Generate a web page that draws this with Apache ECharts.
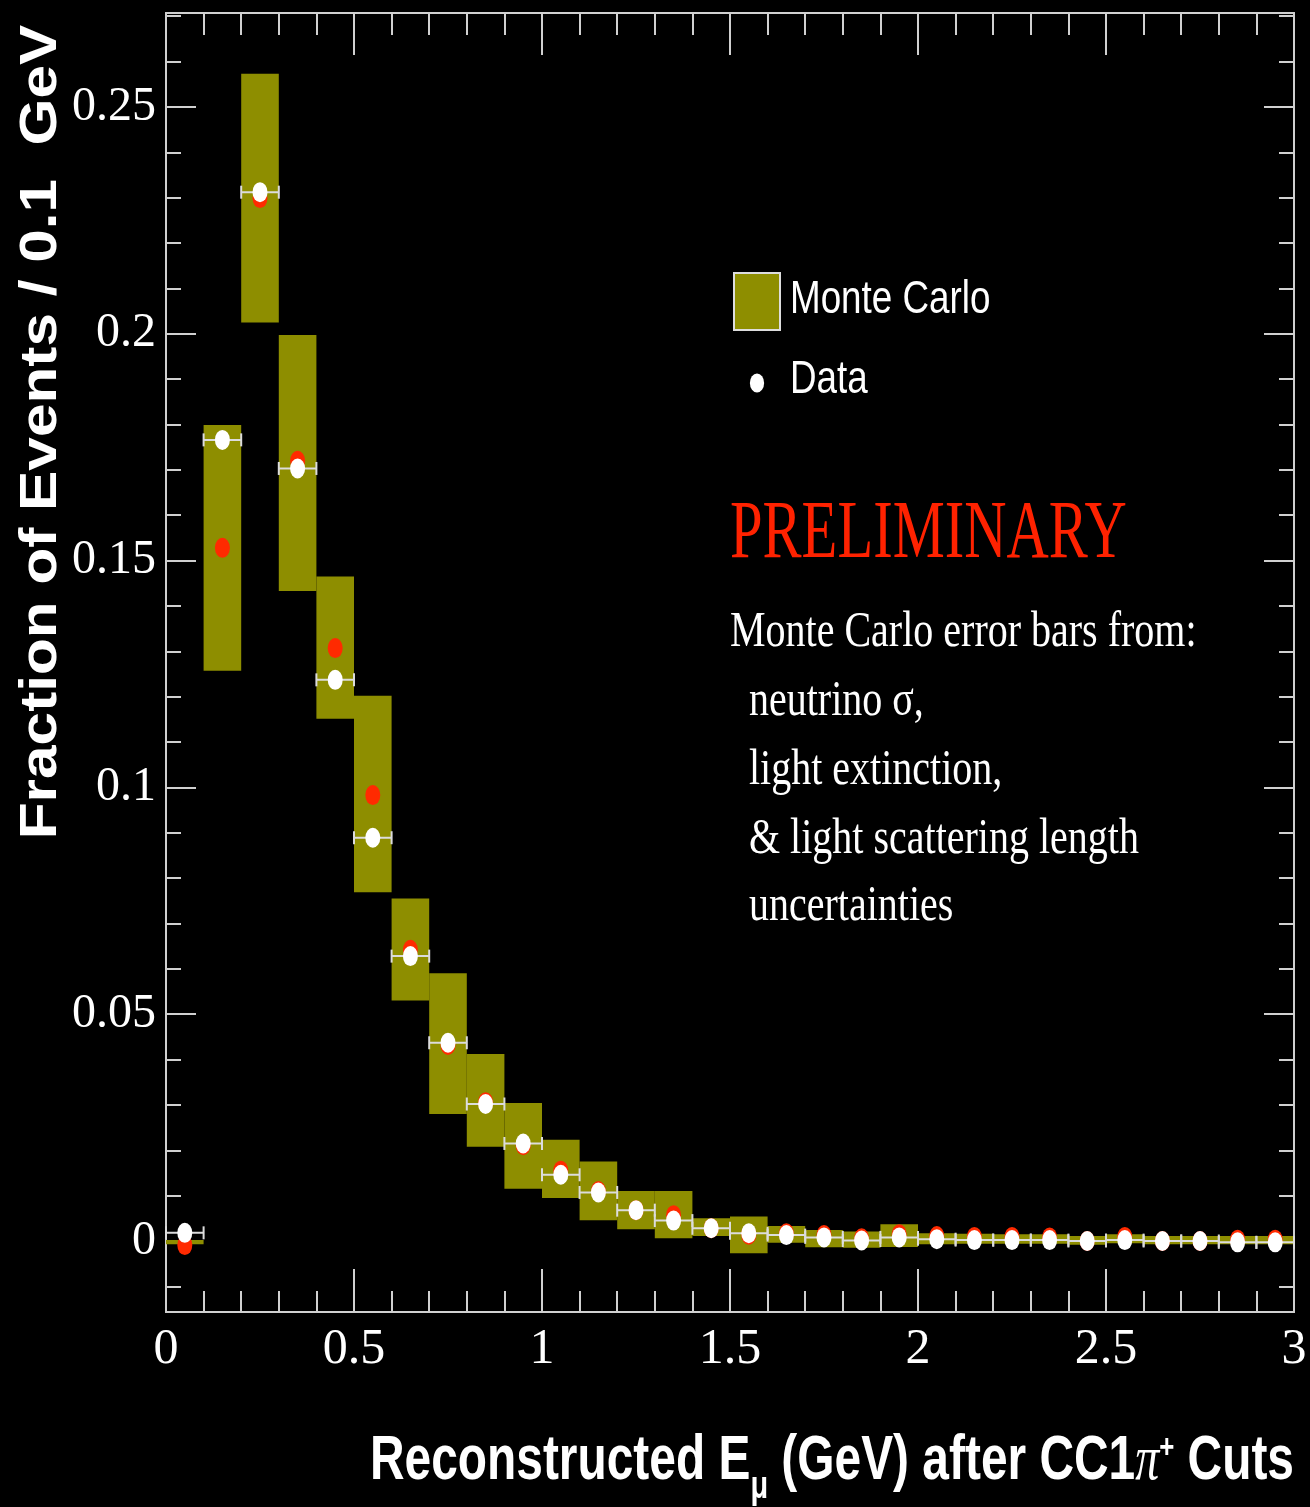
<!DOCTYPE html>
<html>
<head>
<meta charset="utf-8">
<script src="https://cdn.jsdelivr.net/npm/echarts@6/dist/echarts.min.js"></script>
<style>
  html, body { margin: 0; padding: 0; background: #000; }
  #chart { width: 1310px; height: 1507px; }
</style>
</head>
<body>
<div id="chart"></div>
<script>
// bins of 0.1 GeV, centres
var binCenters = [0.05, 0.15, 0.25, 0.35, 0.45, 0.55, 0.65, 0.75, 0.85, 0.95,
                  1.05, 1.15, 1.25, 1.35, 1.45, 1.55, 1.65, 1.75, 1.85, 1.95,
                  2.05, 2.15, 2.25, 2.35, 2.45, 2.55, 2.65, 2.75, 2.85, 2.95];
var binWidth = 0.1;

// data points (white)
var dataValues = [0.0018, 0.1766, 0.2312, 0.1703, 0.1237, 0.0889, 0.0628, 0.0437, 0.0302, 0.0215,
                  0.0146, 0.0107, 0.0068, 0.0045, 0.0028, 0.0017, 0.0013, 0.0008, 0.0001, 0.0008,
                  0.0004, 0.0002, 0.0002, 0.0002, 0.0000, 0.0002, 0.0000, 0.0000, -0.0003, -0.0003];

// monte carlo central values (red)
var mcValues = [-0.0009, 0.1528, 0.2299, 0.1720, 0.1307, 0.0983, 0.0642, 0.0432, 0.0306, 0.0211,
                0.0155, 0.0110, 0.0068, 0.0057, 0.0028, 0.0014, 0.0017, 0.0013, 0.0006, 0.0015,
                0.0011, 0.0009, 0.0009, 0.0008, 0.0000, 0.0009, 0.0000, 0.0000, 0.0003, 0.0003];

// monte carlo error band
var mcBandHigh = [0.0002, 0.1799, 0.2573, 0.1997, 0.1465, 0.1202, 0.0755, 0.0590, 0.0412, 0.0304,
                  0.0223, 0.0175, 0.0110, 0.0110, 0.0050, 0.0054, 0.0033, 0.0024, 0.0021, 0.0037,
                  0.0017, 0.0016, 0.0015, 0.0015, 0.0011, 0.0015, 0.0011, 0.0011, 0.0011, 0.0011];
var mcBandLow = [-0.0007, 0.1257, 0.2025, 0.1433, 0.1151, 0.0769, 0.0530, 0.0280, 0.0208, 0.0115,
                 0.0095, 0.0046, 0.0026, 0.0006, 0.0011, -0.0027, -0.0004, -0.0014, -0.0015, -0.0013,
                 -0.0007, -0.0006, -0.0006, -0.0006, -0.0008, -0.0005, -0.0007, -0.0007, -0.0007, -0.0007];

// axis ticks
var yMajorTicks = [0, 0.05, 0.1, 0.15, 0.2, 0.25];
var yMinorTicks = [-0.01, 0.01, 0.02, 0.03, 0.04, 0.06, 0.07, 0.08, 0.09, 0.11, 0.12, 0.13, 0.14,
                   0.16, 0.17, 0.18, 0.19, 0.21, 0.22, 0.23, 0.24, 0.26, 0.27];

var olive = "#8e8e00";
var axisColor = "#d0d0d0";

var bandData = [], mcData = [], dataPts = [];
for (var i = 0; i < binCenters.length; i++) {
  bandData.push([binCenters[i], mcBandLow[i], mcBandHigh[i]]);
  mcData.push([binCenters[i], mcValues[i]]);
  dataPts.push([binCenters[i], dataValues[i]]);
}

function yAxisDef(pos, ticks, len, labels) {
  return {
    type: "value",
    position: pos,
    min: -0.01565,
    max: 0.2707,
    axisLine: { show: true, onZero: false, lineStyle: { color: axisColor, width: 2 } },
    axisTick: { show: true, inside: true, length: len, customValues: ticks,
                lineStyle: { color: axisColor, width: 2 } },
    axisLabel: labels ? {
      show: true, customValues: ticks, color: "#fff", margin: 10,
      fontFamily: "Liberation Serif", fontSize: 48,
      formatter: function (v) { return String(+v.toFixed(2)); }
    } : { show: false },
    splitLine: { show: false }
  };
}

function xAxisDef(pos, major, minor, labels) {
  return {
    type: "value",
    position: pos,
    min: 0,
    max: 3,
    interval: 0.5,
    axisLine: { show: true, onZero: false, lineStyle: { color: axisColor, width: 2 } },
    axisTick: { show: true, inside: true, length: major, lineStyle: { color: axisColor, width: 2 } },
    minorTick: { show: true, splitNumber: 5, length: minor, lineStyle: { color: axisColor, width: 2 } },
    axisLabel: labels ? {
      show: true, color: "#fff", margin: 13,
      fontFamily: "Liberation Serif", fontSize: 50
    } : { show: false },
    splitLine: { show: false },
    minorSplitLine: { show: false }
  };
}

var chart = echarts.init(document.getElementById("chart"));
chart.setOption({
  backgroundColor: "#000",
  animation: false,
  grid: { left: 166, right: 16, top: 13, bottom: 195 },
  xAxis: [
    xAxisDef("bottom", 43, 21, true),
    xAxisDef("top", 42, 22, false)
  ],
  yAxis: [
    yAxisDef("left", yMajorTicks, 30, true),
    yAxisDef("left", yMinorTicks, 15, false),
    yAxisDef("right", yMajorTicks, 30, false),
    yAxisDef("right", yMinorTicks, 15, false)
  ],
  series: [
    {
      name: "Monte Carlo",
      type: "custom",
      z: 1,
      data: bandData,
      encode: { x: 0, y: [1, 2] },
      renderItem: function (params, api) {
        var x = api.value(0);
        var p1 = api.coord([x - binWidth / 2, api.value(2)]);
        var p2 = api.coord([x + binWidth / 2, api.value(1)]);
        return {
          type: "rect",
          shape: { x: p1[0], y: p1[1], width: p2[0] - p1[0], height: p2[1] - p1[1] },
          style: { fill: olive }
        };
      }
    },
    {
      name: "MC",
      type: "scatter",
      z: 2,
      data: mcData,
      symbol: "circle",
      symbolSize: [15, 20],
      itemStyle: { color: "#ff2a00", opacity: 1 }
    },
    {
      name: "Data err",
      type: "custom",
      z: 3,
      data: dataPts,
      renderItem: function (params, api) {
        var x = api.value(0), y = api.value(1);
        var a = api.coord([x - binWidth / 2, y]);
        var b = api.coord([x + binWidth / 2, y]);
        var st = { stroke: "#dcdcdc", lineWidth: 2 };
        return {
          type: "group",
          children: [
            { type: "line", shape: { x1: a[0], y1: a[1], x2: b[0], y2: b[1] }, style: st },
            { type: "line", shape: { x1: a[0], y1: a[1] - 6.5, x2: a[0], y2: a[1] + 6.5 }, style: st },
            { type: "line", shape: { x1: b[0], y1: b[1] - 6.5, x2: b[0], y2: b[1] + 6.5 }, style: st }
          ]
        };
      }
    },
    {
      name: "Data",
      type: "scatter",
      z: 4,
      data: dataPts,
      symbol: "circle",
      symbolSize: [15, 20],
      itemStyle: { color: "#fff", opacity: 1 }
    }
  ],
  graphic: [
    // legend
    { type: "rect", shape: { x: 734, y: 273, width: 46, height: 57 },
      style: { fill: olive, stroke: "#ddd", lineWidth: 2 } },
    { type: "text", x: 790, y: 300, scaleX: 0.8,
      style: { text: "Monte Carlo", fill: "#fff", font: "46px 'Liberation Sans'", verticalAlign: "middle" } },
    { type: "circle", x: 757, y: 383, scaleX: 0.75, shape: { cx: 0, cy: 0, r: 9.5 }, style: { fill: "#fff" } },
    { type: "text", x: 790, y: 380, scaleX: 0.8,
      style: { text: "Data", fill: "#fff", font: "46px 'Liberation Sans'", verticalAlign: "middle" } },
    // annotation
    { type: "text", x: 730, y: 535, scaleX: 0.714,
      style: { text: "PRELIMINARY", fill: "#ff2200", font: "82px 'Liberation Serif'", verticalAlign: "middle" } },
    { type: "text", x: 730, y: 633, scaleX: 0.8,
      style: { text: "Monte Carlo error bars from:", fill: "#fff", font: "50px 'Liberation Serif'", verticalAlign: "middle" } },
    { type: "text", x: 749, y: 702, scaleX: 0.8,
      style: { text: "neutrino σ,", fill: "#fff", font: "50px 'Liberation Serif'", verticalAlign: "middle" } },
    { type: "text", x: 749, y: 771, scaleX: 0.8,
      style: { text: "light extinction,", fill: "#fff", font: "50px 'Liberation Serif'", verticalAlign: "middle" } },
    { type: "text", x: 749, y: 840, scaleX: 0.8,
      style: { text: "& light scattering length", fill: "#fff", font: "50px 'Liberation Serif'", verticalAlign: "middle" } },
    { type: "text", x: 749, y: 907, scaleX: 0.8,
      style: { text: "uncertainties", fill: "#fff", font: "50px 'Liberation Serif'", verticalAlign: "middle" } },
    // axis titles
    { type: "text", x: 42, y: 432, rotation: Math.PI / 2, scaleX: 1.16,
      style: { text: "Fraction of Events / 0.1  GeV", fill: "#fff", font: "bold 52px 'Liberation Sans'",
               align: "center", verticalAlign: "middle" } },
    { type: "text", x: 1294, y: 1462, scaleX: 0.76,
      style: {
        text: "Reconstructed E{sub|μ} (GeV) after CC1{pi|π}{sup|+} Cuts",
        fill: "#fff", font: "bold 63px 'Liberation Sans'", align: "right", verticalAlign: "middle",
        lineHeight: 90,
        rich: {
          sub: { fontSize: 38, fontWeight: "bold", fontFamily: "Liberation Sans", fill: "#fff",
                 lineHeight: 38, verticalAlign: "bottom" },
          sup: { fontSize: 34, fontWeight: "bold", fontFamily: "Liberation Sans", fill: "#fff",
                 lineHeight: 34, verticalAlign: "top", padding: [15, 0, 0, 0] },
          pi: { fontSize: 63, fontStyle: "italic", fontFamily: "Liberation Serif", fill: "#fff", lineHeight: 90 }
        }
      } }
  ]
});
</script>
</body>
</html>
